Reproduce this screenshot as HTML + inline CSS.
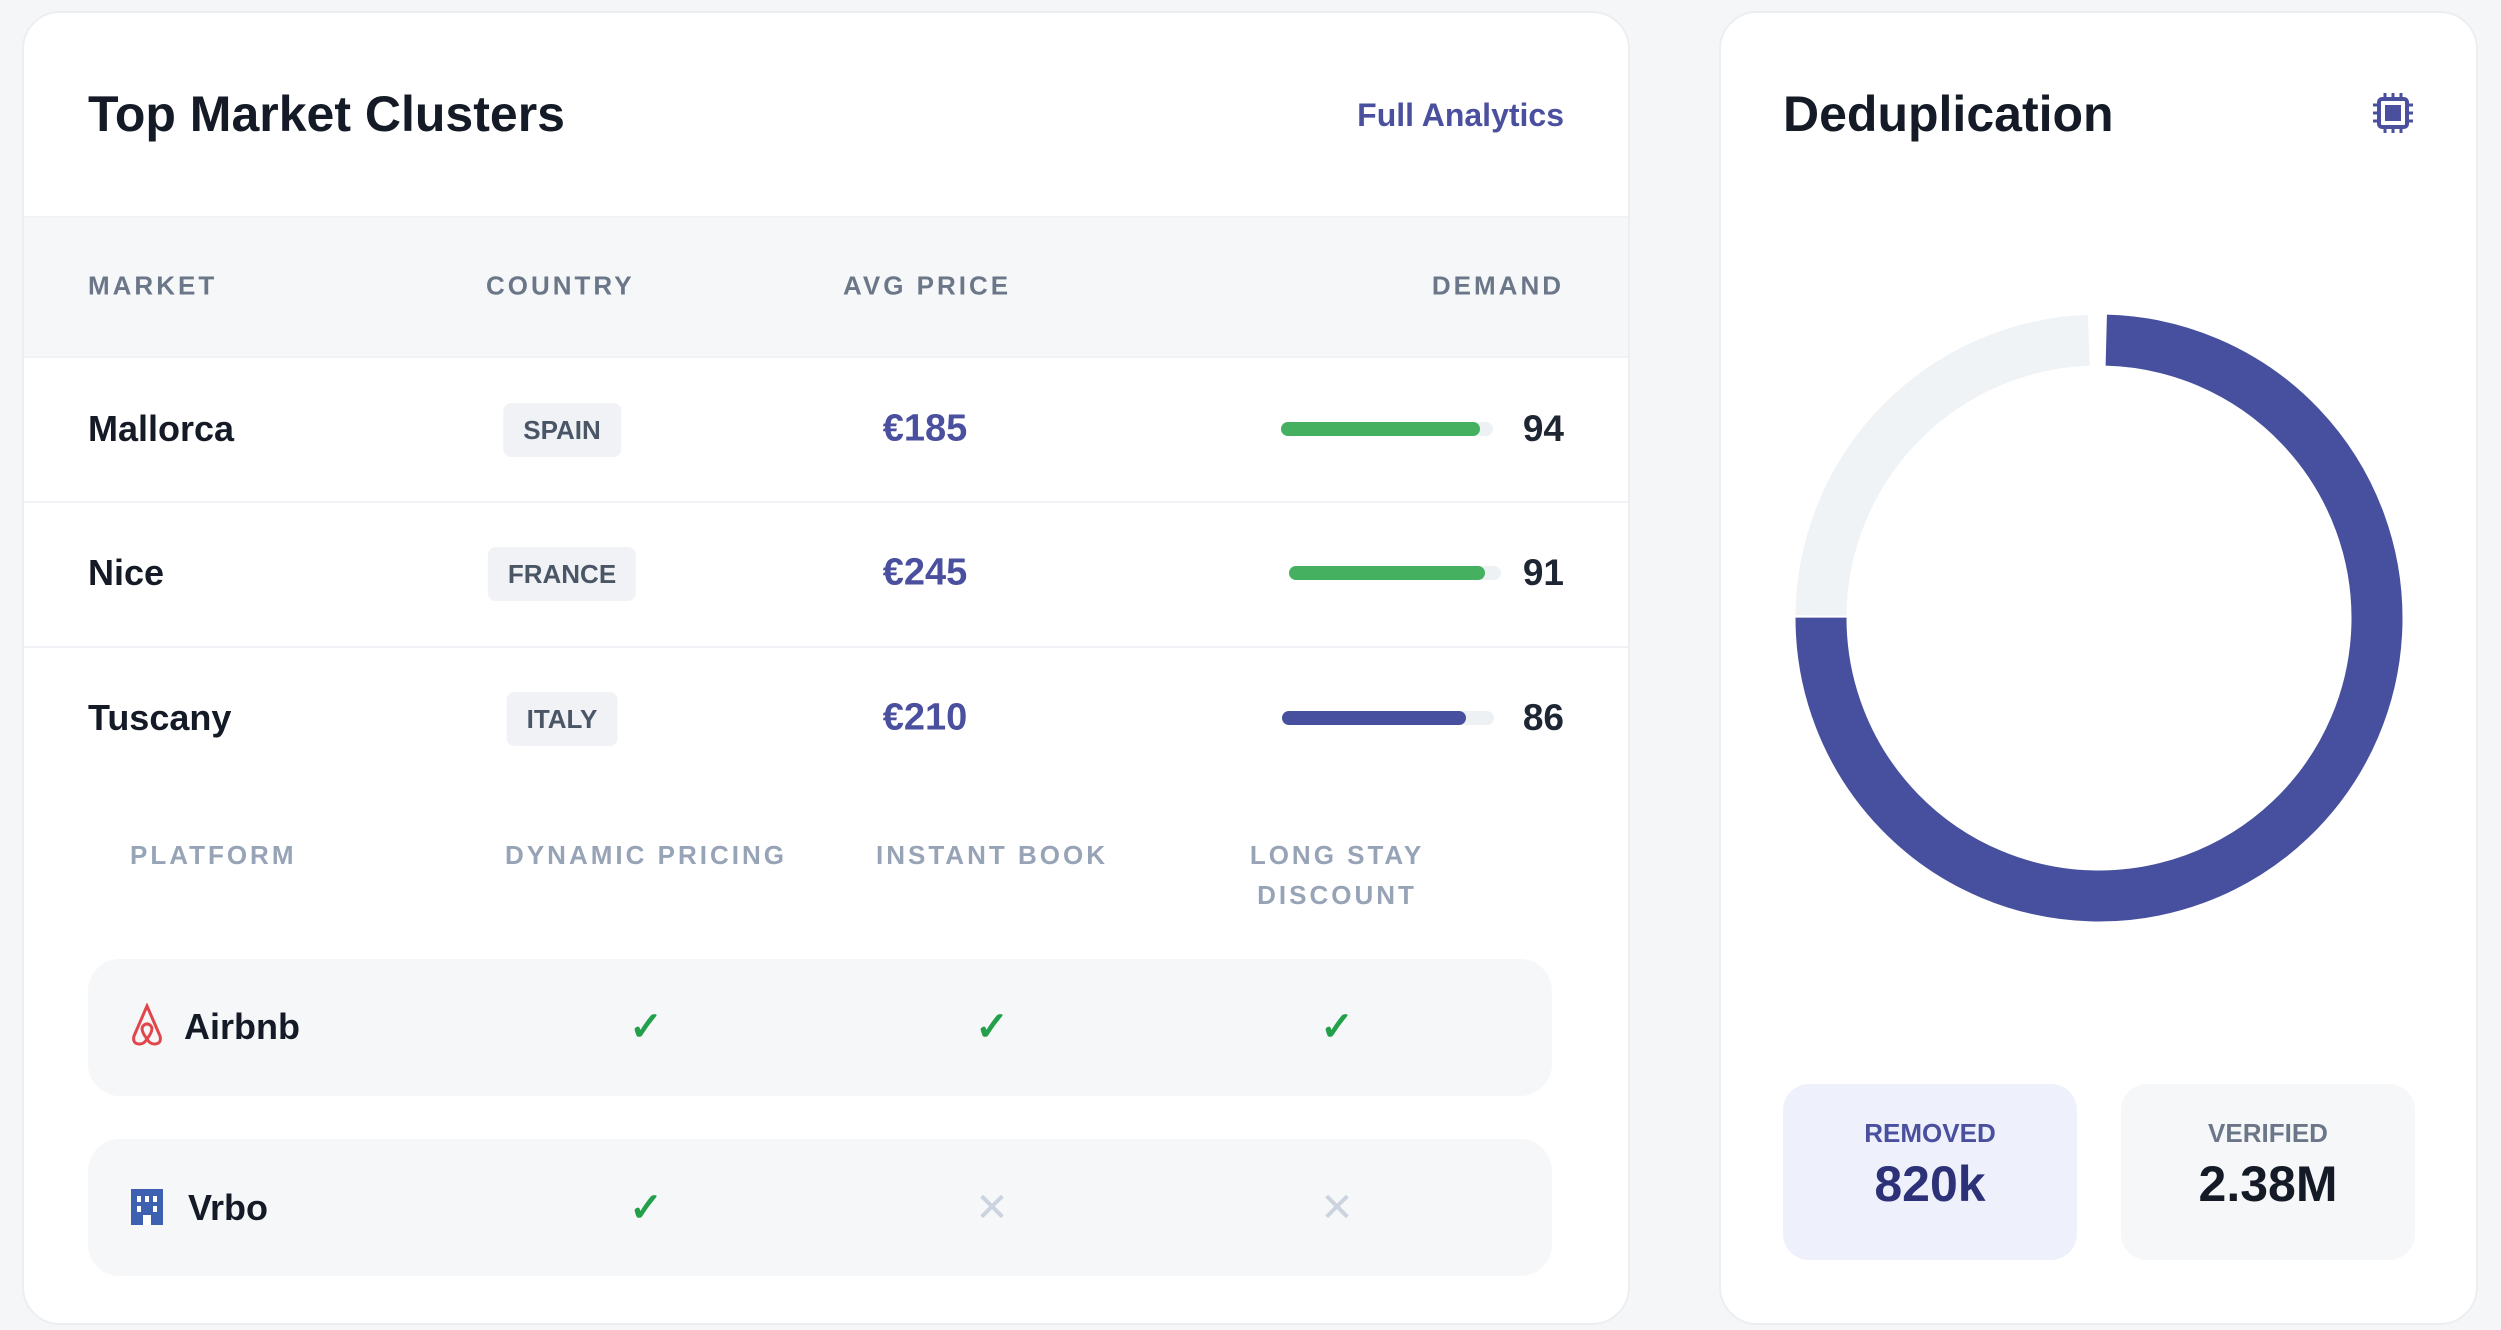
<!DOCTYPE html>
<html><head><meta charset="utf-8"><style>
*{box-sizing:border-box;margin:0;padding:0}
body{width:2501px;height:1330px;background:#f5f6f8;font-family:"Liberation Sans",Arial,sans-serif;position:relative;overflow:hidden}
.card{position:absolute;background:#fff;border:2px solid #eceef2;border-radius:38px;overflow:hidden}
.abs{position:absolute}
.h{font-weight:700;color:#141a26}
.lbl{font-size:26px;letter-spacing:3px;color:#6b7789;font-weight:700;transform:translateY(-50%)}
.name{font-size:36px;font-weight:700;color:#141a26;transform:translateY(-50%)}
.pill{background:#f0f2f5;color:#4a5566;font-size:26px;font-weight:700;border-radius:8px;height:54px;line-height:54px;padding:0 20px;transform:translate(-50%,-50%)}
.price{font-size:38px;font-weight:700;color:#4a4f9e;transform:translate(-50%,-50%)}
.track{height:14px;border-radius:7px;background:#eef1f4;transform:translateY(-50%)}
.fill{height:14px;border-radius:7px}
.num{font-size:37px;font-weight:700;color:#1e2533;transform:translateY(-50%);text-align:right}
.sub{font-size:26px;letter-spacing:3px;color:#97a3b6;font-weight:700;text-align:center;line-height:40px}
.prow{position:absolute;left:86px;width:1464px;height:137px;background:#f6f7f9;border-radius:32px}
.mk{position:absolute;font-size:40px;transform:translate(-50%,-50%);font-weight:700}
</style></head><body>
<div class="card" style="left:22px;top:11px;width:1608px;height:1314px">
  <div class="abs h" style="left:64px;top:72px;font-size:50px">Top Market Clusters</div>
  <div class="abs" style="right:64px;top:84px;font-size:32px;font-weight:700;color:#4a4f9e">Full Analytics</div>
  <div class="abs" style="left:0;top:203px;width:100%;height:142px;background:#f6f7f9;border-top:2px solid #f0f2f5;border-bottom:2px solid #f0f2f5"></div>
  <div class="abs lbl" style="left:64px;top:273px">MARKET</div>
  <div class="abs lbl" style="left:462px;top:273px">COUNTRY</div>
  <div class="abs lbl" style="left:819px;top:273px">AVG PRICE</div>
  <div class="abs lbl" style="right:64px;top:273px">DEMAND</div>
  <div class="abs" style="left:0;top:488px;width:100%;height:2px;background:#f0f2f5"></div>
  <div class="abs" style="left:0;top:633px;width:100%;height:2px;background:#f0f2f5"></div>

  <div class="abs name" style="left:64px;top:416px">Mallorca</div>
  <div class="abs pill" style="left:538px;top:417px">SPAIN</div>
  <div class="abs price" style="left:901px;top:416px">€185</div>
  <div class="abs track" style="left:1257px;top:416px;width:212px"><div class="fill" style="width:199px;background:#44b060"></div></div>
  <div class="abs num" style="right:64px;top:416px">94</div>

  <div class="abs name" style="left:64px;top:560px">Nice</div>
  <div class="abs pill" style="left:538px;top:561px">FRANCE</div>
  <div class="abs price" style="left:901px;top:560px">€245</div>
  <div class="abs track" style="left:1265px;top:560px;width:212px"><div class="fill" style="width:196px;background:#44b060"></div></div>
  <div class="abs num" style="right:64px;top:560px">91</div>

  <div class="abs name" style="left:64px;top:705px">Tuscany</div>
  <div class="abs pill" style="left:538px;top:706px">ITALY</div>
  <div class="abs price" style="left:901px;top:705px">€210</div>
  <div class="abs track" style="left:1258px;top:705px;width:212px"><div class="fill" style="width:184px;background:#47509e"></div></div>
  <div class="abs num" style="right:64px;top:705px">86</div>

  <div class="abs sub" style="left:106px;top:822px">PLATFORM</div>
  <div class="abs sub" style="left:472px;top:822px;width:300px">DYNAMIC PRICING</div>
  <div class="abs sub" style="left:818px;top:822px;width:300px">INSTANT BOOK</div>
  <div class="abs sub" style="left:1163px;top:822px;width:300px">LONG STAY<br>DISCOUNT</div>

  <div class="prow" style="left:64px;top:946px"></div>
  <svg class="abs" style="left:106px;top:990px" width="34" height="44" viewBox="0 0 34 44"><path d="M17 3 L4 33 Q2 41 10 41 Q14 41 17 36 Q20 41 24 41 Q32 41 30 33 Z M17 36 Q10 27 13 23 Q17 19 21 23 Q24 27 17 36" fill="none" stroke="#e0474c" stroke-width="3"/></svg>
  <div class="abs name" style="left:160px;top:1014px">Airbnb</div>
  <div class="mk" style="left:622px;top:1014px;color:#22a04a">✓</div>
  <div class="mk" style="left:968px;top:1014px;color:#22a04a">✓</div>
  <div class="mk" style="left:1313px;top:1014px;color:#22a04a">✓</div>

  <div class="prow" style="left:64px;top:1126px"></div>
  <svg class="abs" style="left:104px;top:1174px" width="38" height="40" viewBox="0 0 38 40"><rect x="3" y="2" width="32" height="36" fill="#3d60b0"/><rect x="9" y="9" width="4" height="6" fill="#fff"/><rect x="17" y="9" width="4" height="6" fill="#fff"/><rect x="25" y="9" width="4" height="6" fill="#fff"/><rect x="9" y="19" width="4" height="6" fill="#fff"/><rect x="25" y="19" width="4" height="6" fill="#fff"/><rect x="15" y="28" width="8" height="10" fill="#fff"/></svg>
  <div class="abs name" style="left:164px;top:1195px">Vrbo</div>
  <div class="mk" style="left:622px;top:1195px;color:#22a04a">✓</div>
  <div class="mk" style="left:968px;top:1195px;color:#cbd3de;font-weight:400">✕</div>
  <div class="mk" style="left:1313px;top:1195px;color:#cbd3de;font-weight:400">✕</div>
</div>

<div class="card" style="left:1719px;top:11px;width:759px;height:1314px">
  <div class="abs h" style="left:62px;top:72px;font-size:50px">Deduplication</div>
  <svg class="abs" style="left:650px;top:78px" width="44" height="44" viewBox="0 0 44 44"><rect x="8" y="8" width="28" height="28" rx="3" fill="none" stroke="#4a4f9e" stroke-width="4"/><rect x="14" y="14" width="16" height="16" fill="#4a4f9e"/><g stroke="#4a4f9e" stroke-width="3"><path d="M14 2v6M22 2v6M30 2v6M14 36v6M22 36v6M30 36v6M2 14h6M2 22h6M2 30h6M36 14h6M36 22h6M36 30h6"/></g></svg>
  <svg class="abs" style="left:0;top:0" width="759" height="1000">
    <circle cx="378" cy="605" r="278" fill="none" stroke="#f0f3f6" stroke-width="51" stroke-dasharray="424 2000" transform="rotate(180.5 378 605)"/>
    <circle cx="378" cy="605" r="278" fill="none" stroke="#47509e" stroke-width="51" stroke-dasharray="1303 2000" transform="rotate(-88.5 378 605)"/>
  </svg>
  <div class="abs" style="left:62px;top:1071px;width:294px;height:176px;background:#eef0fb;border-radius:26px;text-align:center">
    <div style="margin-top:34px;font-size:26px;font-weight:700;color:#4a4f9e">REMOVED</div>
    <div style="margin-top:6px;font-size:50px;font-weight:700;color:#2c3178">820k</div>
  </div>
  <div class="abs" style="left:400px;top:1071px;width:294px;height:176px;background:#f6f7f9;border-radius:26px;text-align:center">
    <div style="margin-top:34px;font-size:26px;font-weight:700;color:#6b7789">VERIFIED</div>
    <div style="margin-top:6px;font-size:50px;font-weight:700;color:#141a26">2.38M</div>
  </div>
</div>
</body></html>
